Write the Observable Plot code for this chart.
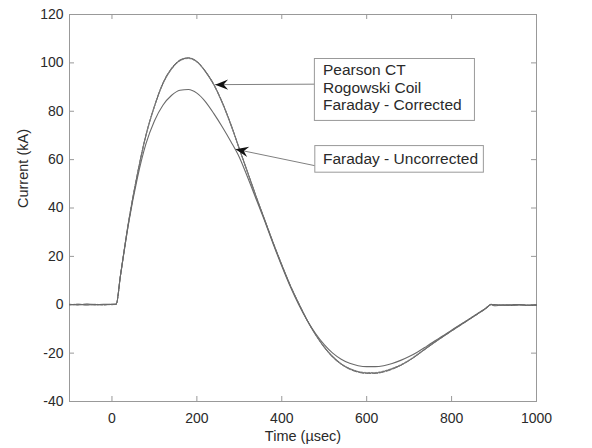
<!DOCTYPE html>
<html><head><meta charset="utf-8">
<script src="https://cdn.jsdelivr.net/npm/d3@7"></script>
<script src="https://cdn.jsdelivr.net/npm/@observablehq/plot@0.6"></script>
<style>
body{margin:0;background:#fff;}
#chart{width:592px;height:448px;}
svg{background:#fff;}
</style></head><body><div id="chart"></div>
<script>
// ---- data ----
const time = [-100,-80,-60,-40,-20,0,10,20,40,60,80,100,120,140,160,180,200,220,240,260,280,300,320,340,360,380,400,420,440,460,480,500,520,540,560,580,600,620,640,660,680,700,720,740,760,780,800,820,840,860,880,893,900,920,940,960,980,1000];
const pearsonCT = [0.2,-0.1,0.3,0,0.2,0.1,0.3,12,35,54,70,82,91.5,97.5,101,102,100.5,96.5,91,83.5,74.5,64.5,54.5,44.5,35,25.5,16.5,8,0.5,-6.5,-12.5,-17.5,-21.5,-24.5,-26.5,-27.7,-28.2,-28.2,-27.6,-26.5,-25,-23,-20.6,-18,-15.5,-13.1,-10.8,-8.5,-6.2,-3.9,-1.6,0.2,-0.4,-0.2,-0.3,-0.1,-0.3,-0.2];
const rogowskiCoil = [0,0.2,0,0.2,-0.1,0.2,0.1,12.3,35.3,54.2,70.2,82.1,91.7,97.7,101.2,102.1,100.6,96.6,91.2,83.7,74.7,64.6,54.6,44.6,35.1,25.6,16.6,8.1,0.6,-6.4,-12.4,-17.6,-21.7,-24.6,-26.7,-27.9,-28.4,-28.4,-27.8,-26.7,-25.1,-23.1,-20.7,-18.1,-15.6,-13.2,-10.9,-8.6,-6.3,-4,-1.7,0.1,-0.2,-0.1,-0.2,0,-0.2,-0.1];
const faradayCorrected = [0.1,0,0.2,-0.1,0.1,0,0.2,11.8,34.8,53.8,69.8,81.8,91.3,97.3,100.8,101.8,100.3,96.3,90.8,83.3,74.3,64.3,54.3,44.3,34.8,25.3,16.3,7.8,0.4,-6.6,-12.6,-17.4,-21.4,-24.4,-26.4,-27.6,-28,-28,-27.4,-26.3,-24.8,-22.8,-20.4,-17.8,-15.3,-12.9,-10.6,-8.3,-6,-3.7,-1.4,0.2,-0.3,-0.1,-0.2,-0.1,-0.2,-0.1];
const faradayUncorrected = [0,0.2,-0.1,0.1,0,0.2,0.2,12,34.5,52.5,66.5,76,82.5,86.5,88.7,89,87.5,84,79,73.5,67.5,61,52.5,43.5,34.5,25,16,7.5,0,-6.5,-12,-16.5,-20,-22.5,-24.2,-25.2,-25.6,-25.6,-25.2,-24.3,-23,-21.4,-19.5,-17.3,-15,-12.8,-10.5,-8.3,-6.1,-3.8,-1.5,0,0.1,-0.1,0,0.1,-0.1,0];
const xTicks = [0,200,400,600,800,1000];
const yTicks = [-40,-20,0,20,40,60,80,100,120];
const xTitle = "Time (\u00b5sec)";
const yTitle = "Current (kA)";
// annotations (data units)
const boxLabels = [["Pearson CT","Rogowski Coil","Faraday - Corrected"],["Faraday - Uncorrected"]];
const boxT = [[478,855],[479,876]];
const boxV = [[76,101.6],[54.6,65.6]];
const labelT = [497,497];
const labelV = [[96.9,89.4,82.4],[60.4]];
const arrowTail = [[478,91.2],[478,57.5]];
const arrowTip = [[243,91],[291,64.3]];

// ---- layout ----
const W = 592, H = 448, ML = 69, MR = 56, MT = 14, MB = 47;
const PW = W - ML - MR, PH = H - MT - MB;
const xDomain = [-100,1000], yDomain = [-40,120];
const font = "'Liberation Sans', Arial, Helvetica, sans-serif";
const ink = "#2a2a2a", axisGray = "#999999";

const idx = d3.range(time.length);
const series = [
  {v: pearsonCT, stroke: "#5c5c5c", dash: null, w: 1.1},
  {v: rogowskiCoil, stroke: "#707070", dash: "5,2", w: 1},
  {v: faradayCorrected, stroke: "#808080", dash: "1.5,2", w: 1},
  {v: faradayUncorrected, stroke: "#6a6a6a", dash: null, w: 1.1}
];

const sx = Plot.scale({x: {domain: xDomain, range: [ML, W - MR]}});
const sy = Plot.scale({y: {domain: yDomain, range: [H - MB, MT]}});
const angles = arrowTip.map((tip, i) => {
  const tail = arrowTail[i];
  return Math.atan2(sy.apply(tail[1]) - sy.apply(tip[1]), sx.apply(tail[0]) - sx.apply(tip[0])) * 180 / Math.PI;
});
const barb = {draw(ctx) { const L = 13, Wd = 5.2, N = 8.5;
  ctx.moveTo(0, 0); ctx.lineTo(L, -Wd); ctx.lineTo(N, 0); ctx.lineTo(L, Wd); ctx.closePath(); }};

const textRows = [];
boxLabels.forEach((lines, b) => lines.forEach((s, j) => textRows.push({t: labelT[b], v: labelV[b][j], s})));

const chart = Plot.plot({
  width: W, height: H,
  marginLeft: ML, marginRight: MR, marginTop: MT, marginBottom: MB,
  style: {fontFamily: font, fontSize: "14px", background: "#fff", color: ink},
  x: {domain: xDomain},
  y: {domain: yDomain},
  marks: [
    Plot.frame({stroke: axisGray}),
    Plot.ruleX(xTicks, {x: d => d, insetTop: PH - 5, stroke: axisGray}),
    Plot.ruleX(xTicks, {x: d => d, insetBottom: PH - 5, stroke: axisGray}),
    Plot.ruleY(yTicks, {y: d => d, insetRight: PW - 5, stroke: axisGray}),
    Plot.ruleY(yTicks, {y: d => d, insetLeft: PW - 5, stroke: axisGray}),
    Plot.axisX(xTicks, {tickSize: 0, tickPadding: 12, fontSize: 14, color: ink, label: null, tickFormat: d => String(d)}),
    Plot.axisY(yTicks, {tickSize: 0, tickPadding: 6, fontSize: 14, color: ink, label: null, tickFormat: d => String(d)}),
    Plot.text([xTitle], {frameAnchor: "bottom", dy: 39, fontSize: 14.5, fill: ink}),
    Plot.text([yTitle], {frameAnchor: "left", dx: -46, rotate: -90, fontSize: 14.5, fill: ink}),
    ...series.map(s => Plot.line(idx, {x: i => time[i], y: i => s.v[i], stroke: s.stroke, strokeWidth: s.w, strokeDasharray: s.dash, curve: "monotone-x"})),
    Plot.link([0, 1], {x1: i => arrowTail[i][0], y1: i => arrowTail[i][1], x2: i => arrowTip[i][0], y2: i => arrowTip[i][1], stroke: "#808080", strokeWidth: 1}),
    Plot.dot([0, 1], {x: i => arrowTip[i][0], y: i => arrowTip[i][1], symbol: barb, r: 5, rotate: i => angles[i], fill: "#111", stroke: "none"}),
    Plot.rect([0, 1], {x1: i => boxT[i][0], x2: i => boxT[i][1], y1: i => boxV[i][0], y2: i => boxV[i][1], fill: "#fff", stroke: "#999", strokeWidth: 1}),
    Plot.text(textRows, {x: "t", y: "v", text: "s", textAnchor: "start", fontSize: 15.5, fill: ink})
  ]
});
document.getElementById("chart").appendChild(chart);
</script>
</body></html>
